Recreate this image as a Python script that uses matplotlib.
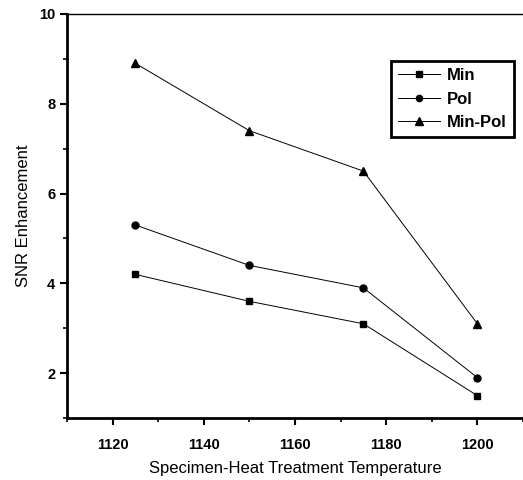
import matplotlib.pyplot as plt
from matplotlib.ticker import MultipleLocator

temps = [1125, 1150, 1175, 1200]
snr_min = [4.2, 3.6, 3.1, 1.5]
snr_pol = [5.3, 4.4, 3.9, 1.9]
snr_minpol = [8.9, 7.4, 6.5, 3.1]

plt.rcParams['font.family'] = ['Liberation Sans', 'DejaVu Sans']

fig = plt.figure(figsize=(5.23, 4.80), dpi=100)
ax = fig.add_axes([0.128, 0.129, 0.872, 0.842])

ax.plot(temps, snr_min, color='black', lw=0.7, marker='s', ms=5, label='Min')
ax.plot(temps, snr_pol, color='black', lw=0.7, marker='o', ms=5, label='Pol')
ax.plot(temps, snr_minpol, color='black', lw=0.7, marker='^', ms=6, label='Min-Pol')

ax.set_xlim(1110, 1210)
ax.set_ylim(1, 10)
ax.xaxis.set_major_locator(MultipleLocator(20))
ax.xaxis.set_minor_locator(MultipleLocator(10))
ax.yaxis.set_major_locator(MultipleLocator(2))
ax.yaxis.set_minor_locator(MultipleLocator(1))

ax.tick_params(which='major', direction='out', length=5, width=1.5, labelsize=10.5)
ax.tick_params(axis='x', which='major', pad=9)
ax.tick_params(which='minor', direction='out', length=3, width=1.2)
for lab in ax.get_xticklabels() + ax.get_yticklabels():
    lab.set_fontweight('bold')

ax.spines['left'].set_linewidth(2)
ax.spines['bottom'].set_linewidth(2)
ax.spines['top'].set_linewidth(1)
ax.spines['right'].set_visible(False)

ax.set_xlabel('Specimen-Heat Treatment Temperature', fontsize=12, labelpad=7)
ax.set_ylabel('SNR Enhancement', fontsize=12, labelpad=6)

leg = ax.legend(loc='upper right', bbox_to_anchor=(0.98, 0.884), borderaxespad=0,
                fancybox=False, edgecolor='black', framealpha=1,
                prop={'weight': 'bold', 'size': 12},
                handlelength=2.5, borderpad=0.45, labelspacing=0.5, handletextpad=0.4,
                markerscale=0.9)
leg.get_frame().set_linewidth(2)

fig.savefig('out.png', dpi=100)
